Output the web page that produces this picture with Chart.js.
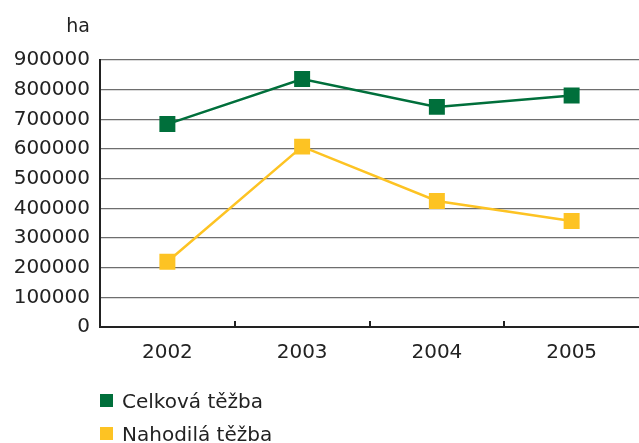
<!DOCTYPE html>
<html>
<head>
<meta charset="utf-8">
<script src="https://cdn.jsdelivr.net/npm/chart.js@4.4.0/dist/chart.umd.min.js"></script>
<style>
  html, body { margin: 0; padding: 0; background: #fff; overflow: hidden; }
  #wrap { position: relative; width: 639px; height: 443px; }
  #legend { position: absolute; left: 100px; top: 384px; font-family: "DejaVu Sans", sans-serif; font-size: 20px; color: #222; }
  #legend div { display: flex; align-items: center; height: 33px; }
  #legend span.box { display: inline-block; width: 13px; height: 13px; margin-right: 9px; }
</style>
</head>
<body>
<div id="wrap">
  <canvas id="chart" width="639" height="443"></canvas>
  <div id="legend"></div>
</div>
<script>
const years = ["2002", "2003", "2004", "2005"];
const celkova = [684000, 836000, 742000, 780000];
const nahodila = [220000, 608000, 425000, 357000];
const seriesNames = ["Celková těžba", "Nahodilá těžba"];
const unitLabel = "ha";

const green = "#006f3b";
const yellow = "#fdc323";
const font = "DejaVu Sans";

// short upward tick marks between categories + unit label
const extras = {
  id: "extras",
  afterDraw(chart) {
    const ctx = chart.ctx;
    const x = chart.scales.x, y = chart.scales.y;
    const bottom = chart.chartArea.bottom;
    ctx.save();
    ctx.strokeStyle = "#222";
    ctx.lineWidth = 2;
    for (let i = 0; i < years.length - 1; i++) {
      const px = Math.round((x.getPixelForValue(i) + x.getPixelForValue(i + 1)) / 2);
      ctx.beginPath();
      ctx.moveTo(px, bottom);
      ctx.lineTo(px, bottom - 6);
      ctx.stroke();
    }
    ctx.fillStyle = "#222";
    ctx.font = "19px '" + font + "'";
    ctx.textAlign = "right";
    ctx.textBaseline = "alphabetic";
    ctx.fillText(unitLabel, y.right - 10, 32);
    ctx.restore();
  }
};

const chart = new Chart(document.getElementById("chart"), {
  type: "line",
  data: {
    labels: years,
    datasets: [
      {
        label: seriesNames[0],
        data: celkova,
        borderColor: green,
        backgroundColor: green,
        borderWidth: 2.5,
        pointStyle: "rect",
        pointRadius: 11.3,
        pointHoverRadius: 11.3,
        pointBorderWidth: 0
      },
      {
        label: seriesNames[1],
        data: nahodila,
        borderColor: yellow,
        backgroundColor: yellow,
        borderWidth: 2.5,
        pointStyle: "rect",
        pointRadius: 11.3,
        pointHoverRadius: 11.3,
        pointBorderWidth: 0
      }
    ]
  },
  options: {
    responsive: false,
    animation: false,
    layout: { autoPadding: false, padding: { top: 60, right: 0, left: 0, bottom: 0 } },
    plugins: {
      legend: { display: false },
      tooltip: { enabled: false }
    },
    scales: {
      x: {
        offset: true,
        grid: { display: false, drawTicks: false },
        border: { display: true, color: "#222", width: 2 },
        ticks: { color: "#222", font: { family: font, size: 20 }, padding: 14 },
        afterFit(scale) { scale.height = 116; }
      },
      y: {
        min: 0,
        max: 900000,
        ticks: {
          stepSize: 100000,
          color: "#222",
          font: { family: font, size: 20 },
          padding: 10,
          callback: (v) => String(v)
        },
        grid: { color: "#6e6e6e", lineWidth: 1.3, drawTicks: false },
        border: { display: true, color: "#222", width: 2 },
        afterFit(scale) { scale.width = 100; }
      }
    }
  },
  plugins: [extras]
});

const legend = document.getElementById("legend");
chart.data.datasets.forEach((ds) => {
  const row = document.createElement("div");
  const box = document.createElement("span");
  box.className = "box";
  box.style.background = ds.backgroundColor;
  row.appendChild(box);
  row.appendChild(document.createTextNode(ds.label));
  legend.appendChild(row);
});
</script>
</body>
</html>
